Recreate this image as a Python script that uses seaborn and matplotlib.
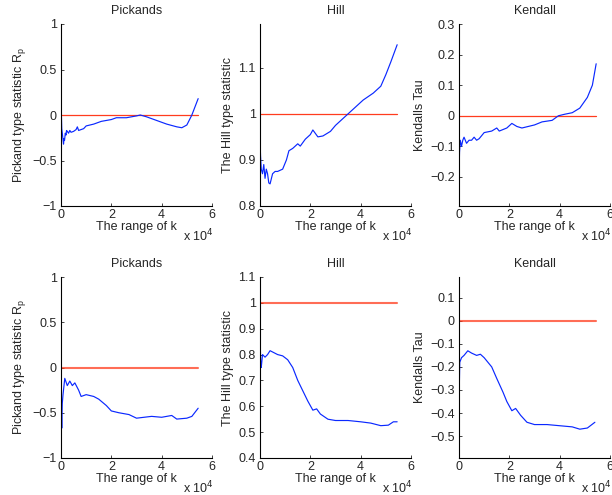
import matplotlib
matplotlib.use("Agg")
import matplotlib.pyplot as plt
import seaborn as sns
import pandas as pd

# ---------------- data (k in units of 1e4) ----------------
# Top row
pick1_k = [0.0, 0.01, 0.03, 0.06, 0.1, 0.12, 0.14, 0.17, 0.2, 0.22, 0.25, 0.3, 0.35, 0.4, 0.5, 0.6,
           0.65, 0.7, 0.8, 0.9, 1.0, 1.3, 1.6, 2.0, 2.2, 2.6, 3.0, 3.15, 3.4, 3.8, 4.2, 4.6, 4.8,
           5.0, 5.2, 5.45]
pick1_v = [0.25, 0.05, -0.15, -0.22, -0.32, -0.26, -0.28, -0.2, -0.22, -0.17, -0.18, -0.2, -0.17,
           -0.19, -0.18, -0.16, -0.13, -0.17, -0.16, -0.15, -0.12, -0.1, -0.07, -0.05, -0.03,
           -0.03, -0.01, 0.0, -0.02, -0.06, -0.1, -0.13, -0.14, -0.11, 0.0, 0.18]

hill1_k = [0.0, 0.02, 0.05, 0.1, 0.15, 0.2, 0.25, 0.3, 0.35, 0.4, 0.5, 0.6, 0.7, 0.9, 1.05, 1.15,
           1.3, 1.5, 1.6, 1.8, 2.0, 2.1, 2.3, 2.5, 2.8, 3.0, 3.3, 3.5, 3.8, 4.1, 4.5, 4.8, 5.0,
           5.2, 5.45]
hill1_v = [0.95, 0.91, 0.88, 0.87, 0.89, 0.86, 0.88, 0.87, 0.85, 0.848, 0.87, 0.875, 0.875, 0.88,
           0.9, 0.92, 0.925, 0.935, 0.93, 0.945, 0.955, 0.965, 0.95, 0.952, 0.962, 0.975, 0.99,
           1.0, 1.015, 1.03, 1.045, 1.06, 1.085, 1.113, 1.15]

kend1_k = [0.0, 0.01, 0.02, 0.05, 0.1, 0.15, 0.2, 0.3, 0.4, 0.5, 0.6, 0.7, 0.8, 1.0, 1.3, 1.5,
           1.6, 1.9, 2.1, 2.3, 2.5, 3.0, 3.3, 3.7, 3.95, 4.2, 4.5, 4.8, 5.1, 5.3, 5.45]
kend1_v = [-0.3, -0.16, -0.12, -0.08, -0.1, -0.08, -0.07, -0.09, -0.08, -0.08, -0.07, -0.08,
           -0.075, -0.055, -0.05, -0.04, -0.05, -0.04, -0.025, -0.035, -0.04, -0.03, -0.02,
           -0.015, 0.0, 0.005, 0.01, 0.025, 0.06, 0.1, 0.17]

# Bottom row
pick2_k = [0.0, 0.01, 0.02, 0.03, 0.05, 0.08, 0.15, 0.25, 0.35, 0.45, 0.55, 0.7, 0.8, 1.0, 1.3,
           1.5, 1.8, 2.0, 2.3, 2.7, 3.0, 3.3, 3.6, 4.0, 4.4, 4.6, 5.0, 5.2, 5.45]
pick2_v = [0.0, -0.4, -0.55, -0.67, -0.4, -0.3, -0.12, -0.2, -0.15, -0.2, -0.17, -0.25, -0.32,
           -0.3, -0.32, -0.35, -0.42, -0.48, -0.5, -0.52, -0.56, -0.55, -0.54, -0.55, -0.53,
           -0.57, -0.56, -0.54, -0.45]

hill2_k = [0.0, 0.01, 0.03, 0.05, 0.1, 0.2, 0.3, 0.4, 0.5, 0.7, 0.9, 1.1, 1.3, 1.5, 1.75, 1.9,
           2.1, 2.25, 2.4, 2.7, 3.0, 3.5, 4.0, 4.4, 4.8, 5.1, 5.3, 5.45]
hill2_v = [0.55, 0.84, 0.76, 0.75, 0.8, 0.79, 0.8, 0.815, 0.81, 0.8, 0.795, 0.78, 0.75, 0.7, 0.65,
           0.62, 0.585, 0.59, 0.57, 0.55, 0.545, 0.545, 0.54, 0.535, 0.525, 0.527, 0.54, 0.54]

kend2_k = [0.0, 0.01, 0.03, 0.1, 0.2, 0.35, 0.5, 0.7, 0.85, 1.0, 1.3, 1.5, 1.75, 1.9, 2.1, 2.25,
           2.45, 2.7, 3.0, 3.5, 4.0, 4.5, 4.8, 5.1, 5.4]
kend2_v = [-0.58, -0.3, -0.18, -0.16, -0.15, -0.13, -0.14, -0.15, -0.145, -0.16, -0.2, -0.25,
           -0.31, -0.35, -0.39, -0.38, -0.41, -0.44, -0.45, -0.45, -0.455, -0.46, -0.47, -0.465,
           -0.44]

ref_k = [0.0, 5.45]
pick_ref = [0, 0]
hill_ref = [1, 1]
kend_ref = [0, 0]

titles = ["Pickands", "Hill", "Kendall"]
ylabels = ["Pickand type statistic R$_\\mathregular{p}$", "The Hill type statistic", "Kendalls Tau"]
xlabel = "The range of k"
xticks = [0, 2, 4, 6]

# ---------------- plotting ----------------
sns.set_style("ticks")
plt.rcParams["font.family"] = ["Liberation Sans", "DejaVu Sans"]
plt.rcParams["xtick.direction"] = "in"
plt.rcParams["ytick.direction"] = "in"
plt.rcParams["xtick.major.size"] = 2.5
plt.rcParams["ytick.major.size"] = 2.5
plt.rcParams["axes.linewidth"] = 0.8
plt.rcParams["axes.edgecolor"] = "black"

fig = plt.figure(figsize=(6.12, 4.95), dpi=100)

lefts = [61 / 612, 260 / 612, 459 / 612]
width = 151 / 612
row_tops = [24, 277]
row_bottoms = [206, 458]

panels = [
    [(pick1_k, pick1_v, pick_ref, (-1, 1), [-1, -0.5, 0, 0.5, 1], ["\u22121", "\u22120.5", "0", "0.5", "1"]),
     (hill1_k, hill1_v, hill_ref, (0.8, 1.195), [0.8, 0.9, 1.0, 1.1], ["0.8", "0.9", "1", "1.1"]),
     (kend1_k, kend1_v, kend_ref, (-0.295, 0.3), [-0.2, -0.1, 0, 0.1, 0.2, 0.3],
      ["\u22120.2", "\u22120.1", "0", "0.1", "0.2", "0.3"])],
    [(pick2_k, pick2_v, pick_ref, (-1, 1), [-1, -0.5, 0, 0.5, 1], ["\u22121", "\u22120.5", "0", "0.5", "1"]),
     (hill2_k, hill2_v, hill_ref, (0.4, 1.1), [0.4, 0.5, 0.6, 0.7, 0.8, 0.9, 1.0, 1.1],
      ["0.4", "0.5", "0.6", "0.7", "0.8", "0.9", "1", "1.1"]),
     (kend2_k, kend2_v, kend_ref, (-0.595, 0.19), [-0.5, -0.4, -0.3, -0.2, -0.1, 0, 0.1],
      ["\u22120.5", "\u22120.4", "\u22120.3", "\u22120.2", "\u22120.1", "0", "0.1"])],
]

fs = 9
for r in range(2):
    bottom = 1 - row_bottoms[r] / 495
    height = (row_bottoms[r] - row_tops[r]) / 495
    for c in range(3):
        k, v, ref, ylim, yt, ytl = panels[r][c]
        ax = fig.add_axes([lefts[c], bottom, width, height])
        ax.set_facecolor("none")
        sns.lineplot(x=ref_k, y=ref, ax=ax, color="#ff3c1e",
                     linewidth=0.9 if r == 0 else 1.5, alpha=1.0 if r == 0 else 0.75)
        sns.lineplot(x=k, y=v, ax=ax, color="#0a28ff", linewidth=0.85, sort=False,
                     estimator=None)
        ax.set_xlim(0, 6)
        ax.set_ylim(*ylim)
        ax.set_xticks(xticks)
        ax.set_xticklabels([str(t) for t in xticks], fontsize=fs)
        ax.set_yticks(yt)
        ax.set_yticklabels(ytl, fontsize=fs)
        ax.set_title(titles[c], fontsize=fs, pad=7)
        ax.set_xlabel(xlabel, fontsize=fs, labelpad=0)
        ax.set_ylabel(ylabels[c], fontsize=fs, labelpad=3)
        ax.tick_params(axis="x", pad=2, width=0.6)
        ax.tick_params(axis="y", pad=3, width=0.6)
        sns.despine(ax=ax)
        ax.text(0.81, -0.118, "x 10$^4$", transform=ax.transAxes, fontsize=fs,
                ha="left", va="top")

fig.savefig("out.png", dpi=100)
